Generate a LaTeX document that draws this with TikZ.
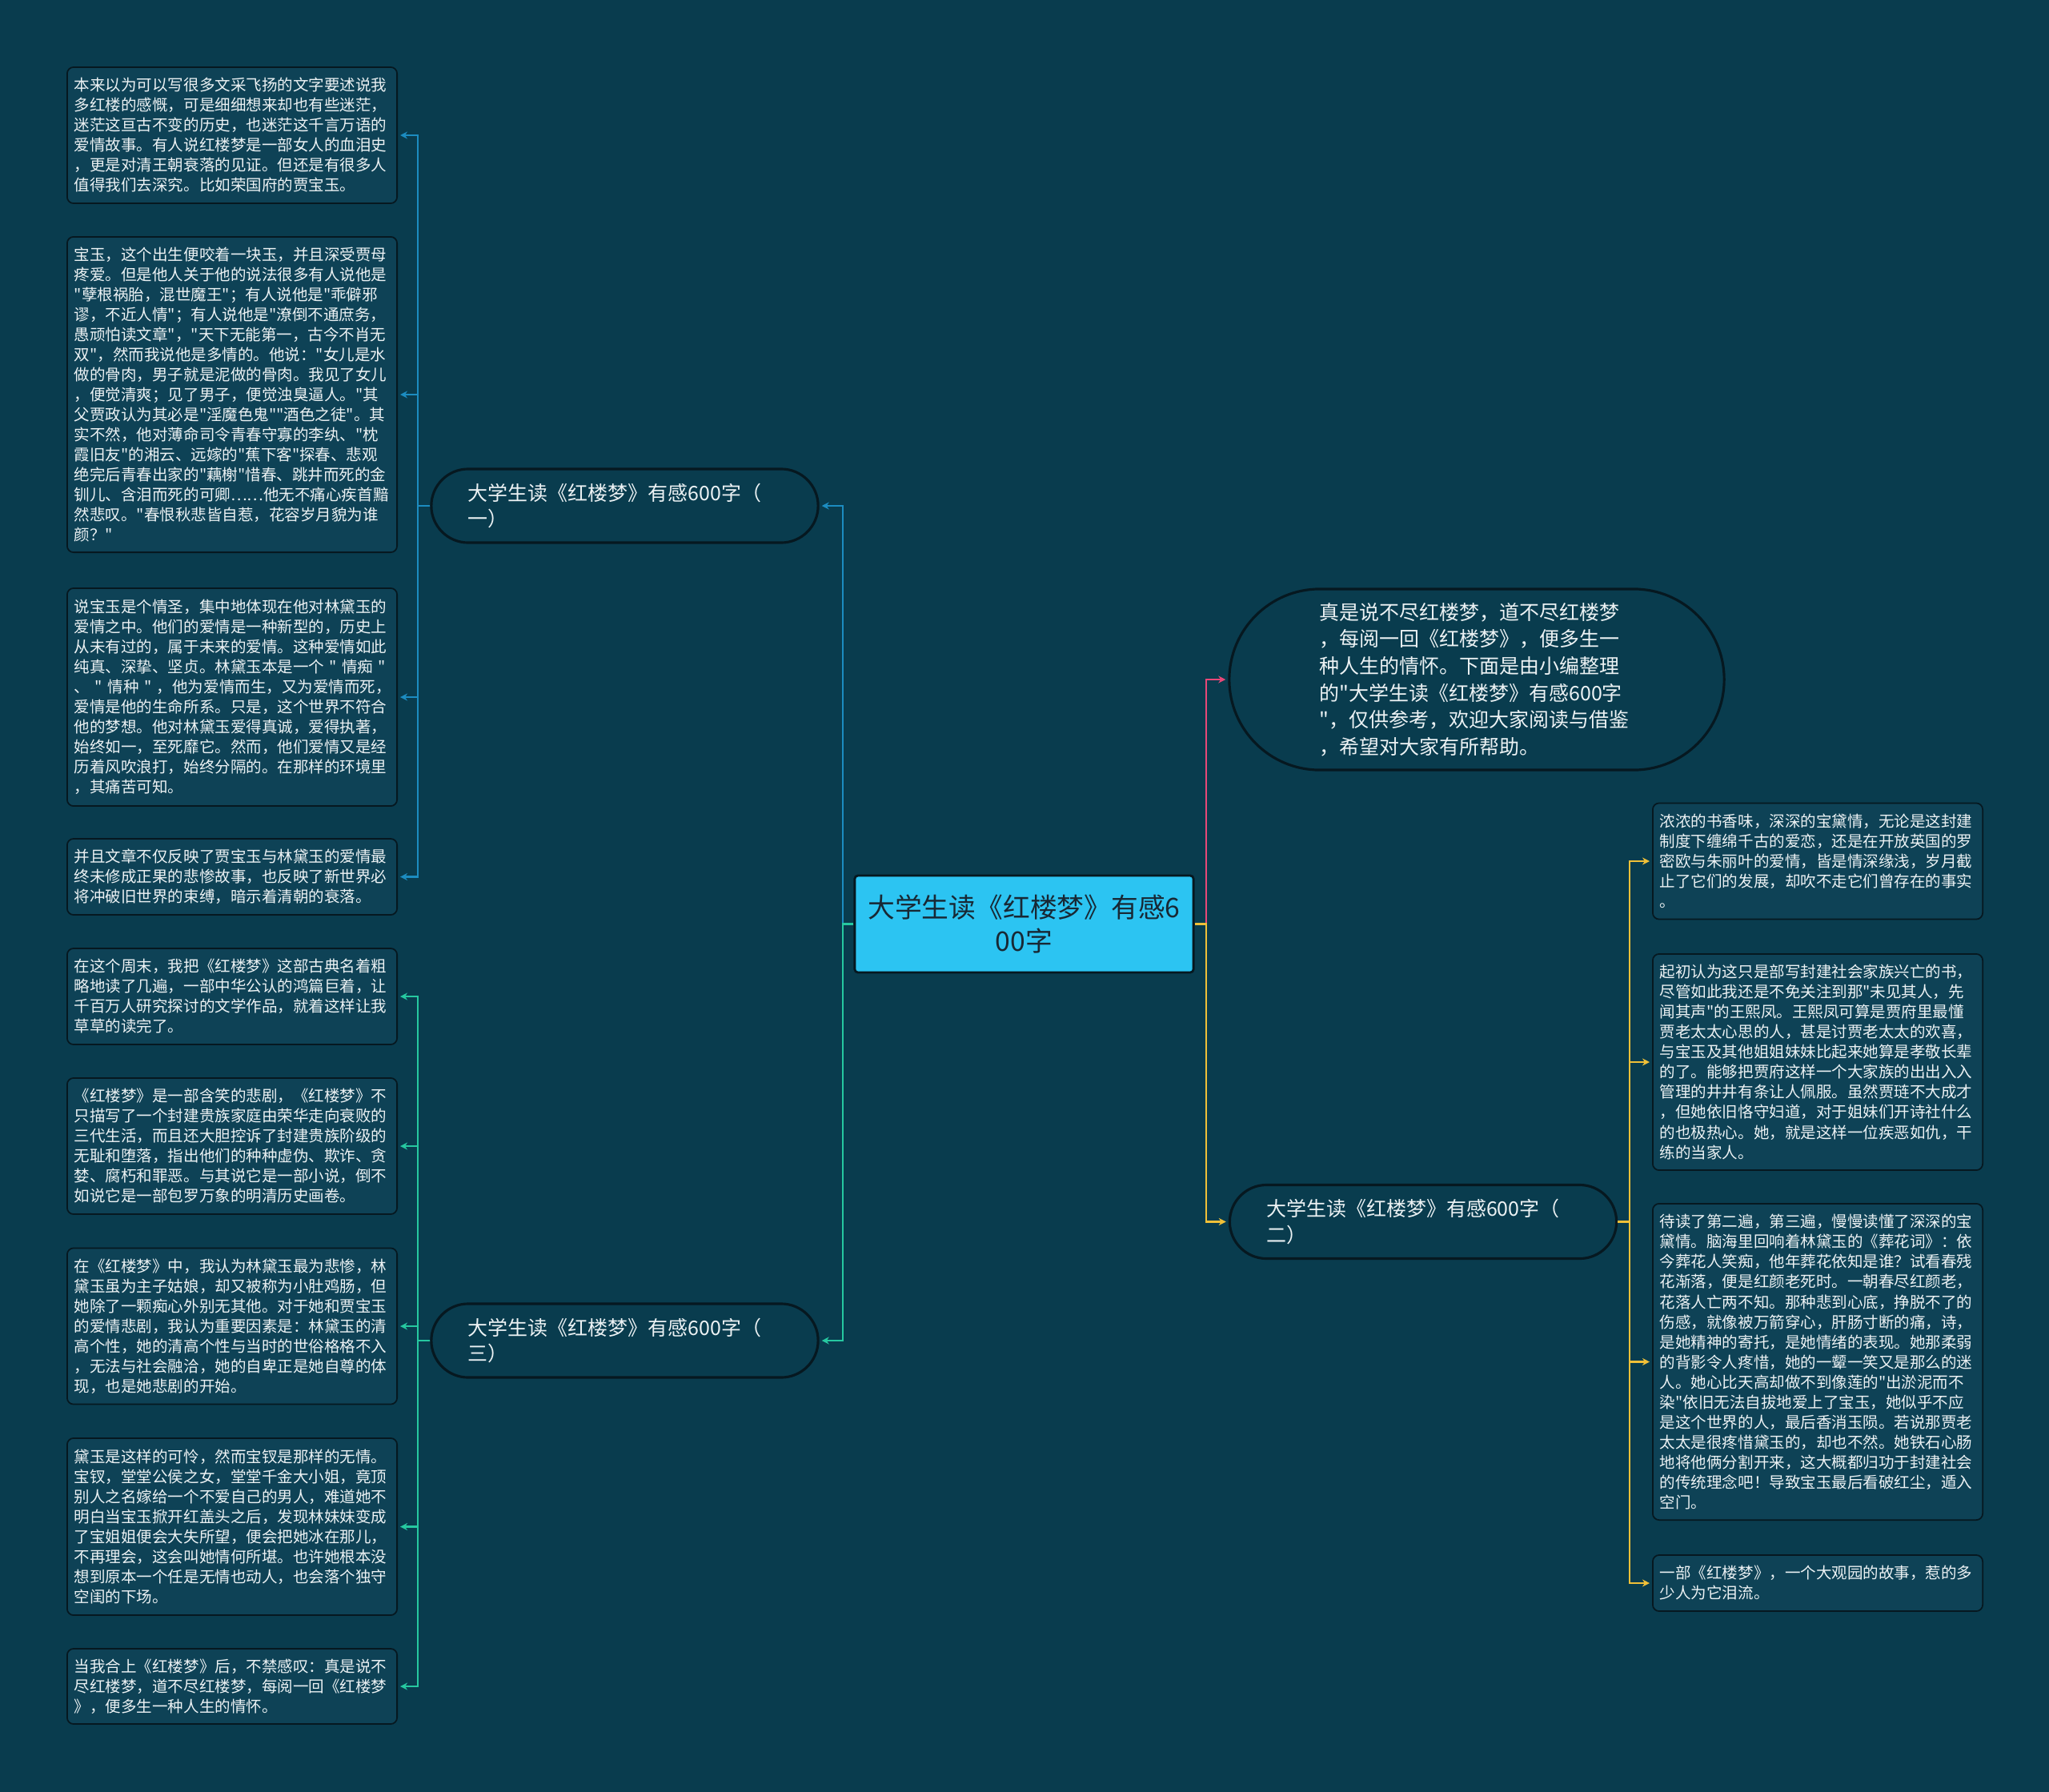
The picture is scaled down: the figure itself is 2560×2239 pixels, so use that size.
\documentclass[tikz,border=0pt]{standalone}
\usepackage{fontspec}
\setmainfont{Noto Sans CJK SC}[Ligatures=TeXOff]
\usetikzlibrary{arrows.meta}
\definecolor{bgc}{RGB}{9,60,78}
\definecolor{leaffill}{RGB}{14,66,86}
\definecolor{edgedark}{RGB}{6,24,32}
\definecolor{rootfill}{RGB}{44,196,242}
\definecolor{roottext}{RGB}{24,40,52}
\definecolor{cblue}{RGB}{28,140,192}
\definecolor{cgreen}{RGB}{38,200,160}
\definecolor{cpink}{RGB}{232,72,120}
\definecolor{cyellow}{RGB}{240,192,56}
\definecolor{txt}{RGB}{236,242,244}
\begin{document}
\begin{tikzpicture}[x=0.01cm,y=-0.01cm,
 leaf/.style={draw=edgedark, line width=0.5pt, fill=leaffill, rounded corners=0.08cm,
   text=txt, font=\fontsize{5.55pt}{7.11pt}\selectfont, align=left,
   text width=3.94cm, inner xsep=0.09cm, inner ysep=0pt, minimum width=4.12cm},
 branch/.style={draw=edgedark, line width=0.9pt, fill=bgc, rounded corners=0.46cm,
   text=txt, font=\fontsize{7.1pt}{9.3pt}\selectfont, align=left,
   text width=3.91cm, inner xsep=0.46cm, inner ysep=0pt,
   minimum width=4.83cm, minimum height=0.92cm},
 rootbox/.style={draw=edgedark, line width=0.8pt, fill=rootfill, rounded corners=0.04cm,
   text=roottext, font=\fontsize{9.6pt}{11.9pt}\selectfont, align=center,
   minimum width=4.23cm, minimum height=1.21cm, inner sep=0pt},
 introbox/.style={draw=edgedark, line width=0.9pt, fill=bgc, rounded corners=1.13cm,
   text=txt, font=\fontsize{7.1pt}{9.55pt}\selectfont, align=left,
   text width=3.92cm, inner xsep=1.13cm, inner ysep=0pt,
   minimum width=6.18cm, minimum height=2.26cm},
 conn/.style={line width=0.6pt, shorten >=0.03cm, -{Stealth[length=0.09cm,width=0.09cm]}}
]
\useasboundingbox[fill=bgc] (0,0) rectangle (2560,2239);

% root and main branches
\node[rootbox] (C) at (1279.5,1154.5) {大学生读《红楼梦》有感6\\00字};
\node[branch] (B1) at (780.5,632) {大学生读《红楼梦》有感600字（\\一）};
\node[branch] (B3) at (780.5,1675) {大学生读《红楼梦》有感600字（\\三）};
\node[branch] (B2) at (1778,1526.5) {大学生读《红楼梦》有感600字（\\二）};
\node[introbox] (I) at (1845,849) {真是说不尽红楼梦，道不尽红楼梦\\，每阅一回《红楼梦》，便多生一\\种人生的情怀。下面是由小编整理\\的"大学生读《红楼梦》有感600字\\"，仅供参考，欢迎大家阅读与借鉴\\，希望对大家有所帮助。};

% left leaves (branch 1)
\node[leaf, minimum height=1.70cm] (L1) at (290,169) {本来以为可以写很多文采飞扬的文字要述说我\\多红楼的感慨，可是细细想来却也有些迷茫，\\迷茫这亘古不变的历史，也迷茫这千言万语的\\爱情故事。有人说红楼梦是一部女人的血泪史\\，更是对清王朝衰落的见证。但还是有很多人\\值得我们去深究。比如荣国府的贾宝玉。};
\node[leaf, minimum height=3.94cm] (L2) at (290,493) {宝玉，这个出生便咬着一块玉，并且深受贾母\\疼爱。但是他人关于他的说法很多有人说他是\\"孽根祸胎，混世魔王"；有人说他是"乖僻邪\\谬，不近人情"；有人说他是"潦倒不通庶务，\\愚顽怕读文章"，"天下无能第一，古今不肖无\\双"，然而我说他是多情的。他说："女儿是水\\做的骨肉，男子就是泥做的骨肉。我见了女儿\\，便觉清爽；见了男子，便觉浊臭逼人。"其\\父贾政认为其必是"淫魔色鬼""酒色之徒"。其\\实不然，他对薄命司令青春守寡的李纨、"枕\\霞旧友"的湘云、远嫁的"蕉下客"探春、悲观\\绝完后青春出家的"藕榭"惜春、跳井而死的金\\钏儿、含泪而死的可卿……他无不痛心疾首黯\\然悲叹。"春恨秋悲皆自惹，花容岁月貌为谁\\颜？"};
\node[leaf, minimum height=2.72cm] (L3) at (290,871) {说宝玉是个情圣，集中地体现在他对林黛玉的\\爱情之中。他们的爱情是一种新型的，历史上\\从未有过的，属于未来的爱情。这种爱情如此\\纯真、深挚、坚贞。林黛玉本是一个~"~情痴~"\\、~"~情种~"~，他为爱情而生，又为爱情而死，\\爱情是他的生命所系。只是，这个世界不符合\\他的梦想。他对林黛玉爱得真诚，爱得执著，\\始终如一，至死靡它。然而，他们爱情又是经\\历着风吹浪打，始终分隔的。在那样的环境里\\，其痛苦可知。};
\node[leaf, minimum height=0.95cm] (L4) at (290,1095.5) {并且文章不仅反映了贾宝玉与林黛玉的爱情最\\终未修成正果的悲惨故事，也反映了新世界必\\将冲破旧世界的束缚，暗示着清朝的衰落。};

% left leaves (branch 3)
\node[leaf, minimum height=1.20cm] (L5) at (290,1245) {在这个周末，我把《红楼梦》这部古典名着粗\\略地读了几遍，一部中华公认的鸿篇巨着，让\\千百万人研究探讨的文学作品，就着这样让我\\草草的读完了。};
\node[leaf, minimum height=1.70cm] (L6) at (290,1432) {《红楼梦》是一部含笑的悲剧，《红楼梦》不\\只描写了一个封建贵族家庭由荣华走向衰败的\\三代生活，而且还大胆控诉了封建贵族阶级的\\无耻和堕落，指出他们的种种虚伪、欺诈、贪\\婪、腐朽和罪恶。与其说它是一部小说，倒不\\如说它是一部包罗万象的明清历史画卷。};
\node[leaf, minimum height=1.95cm] (L7) at (290,1657) {在《红楼梦》中，我认为林黛玉最为悲惨，林\\黛玉虽为主子姑娘，却又被称为小肚鸡肠，但\\她除了一颗痴心外别无其他。对于她和贾宝玉\\的爱情悲剧，我认为重要因素是：林黛玉的清\\高个性，她的清高个性与当时的世俗格格不入\\，无法与社会融洽，她的自卑正是她自尊的体\\现，也是她悲剧的开始。};
\node[leaf, minimum height=2.21cm] (L8) at (290,1907.5) {黛玉是这样的可怜，然而宝钗是那样的无情。\\宝钗，堂堂公侯之女，堂堂千金大小姐，竟顶\\别人之名嫁给一个不爱自己的男人，难道她不\\明白当宝玉掀开红盖头之后，发现林妹妹变成\\了宝姐姐便会大失所望，便会把她冰在那儿，\\不再理会，这会叫她情何所堪。也许她根本没\\想到原本一个任是无情也动人，也会落个独守\\空闺的下场。};
\node[leaf, minimum height=0.94cm] (L9) at (290,2107) {当我合上《红楼梦》后，不禁感叹：真是说不\\尽红楼梦，道不尽红楼梦，每阅一回《红楼梦\\》，便多生一种人生的情怀。};

% right leaves (branch 2)
\node[leaf, minimum height=1.45cm] (R1) at (2271,1076) {浓浓的书香味，深深的宝黛情，无论是这封建\\制度下缠绵千古的爱恋，还是在开放英国的罗\\密欧与朱丽叶的爱情，皆是情深缘浅，岁月截\\止了它们的发展，却吹不走它们曾存在的事实\\。};
\node[leaf, minimum height=2.70cm] (R2) at (2271,1327) {起初认为这只是部写封建社会家族兴亡的书，\\尽管如此我还是不免关注到那"未见其人，先\\闻其声"的王熙凤。王熙凤可算是贾府里最懂\\贾老太太心思的人，甚是讨贾老太太的欢喜，\\与宝玉及其他姐姐妹妹比起来她算是孝敬长辈\\的了。能够把贾府这样一个大家族的出出入入\\管理的井井有条让人佩服。虽然贾琏不大成才\\，但她依旧恪守妇道，对于姐妹们开诗社什么\\的也极热心。她，就是这样一位疾恶如仇，干\\练的当家人。};
\node[leaf, minimum height=3.95cm] (R3) at (2271,1701.5) {待读了第二遍，第三遍，慢慢读懂了深深的宝\\黛情。脑海里回响着林黛玉的《葬花词》：依\\今葬花人笑痴，他年葬花依知是谁？试看春残\\花渐落，便是红颜老死时。一朝春尽红颜老，\\花落人亡两不知。那种悲到心底，挣脱不了的\\伤感，就像被万箭穿心，肝肠寸断的痛，诗，\\是她精神的寄托，是她情绪的表现。她那柔弱\\的背影令人疼惜，她的一颦一笑又是那么的迷\\人。她心比天高却做不到像莲的"出淤泥而不\\染"依旧无法自拔地爱上了宝玉，她似乎不应\\是这个世界的人，最后香消玉陨。若说那贾老\\太太是很疼惜黛玉的，却也不然。她铁石心肠\\地将他俩分割开来，这大概都归功于封建社会\\的传统理念吧！导致宝玉最后看破红尘，遁入\\空门。};
\node[leaf, minimum height=0.70cm] (R4) at (2271,1978) {一部《红楼梦》，一个大观园的故事，惹的多\\少人为它泪流。};

% junction points
\coordinate (jL) at (1053,1154.5);
\coordinate (jR) at (1507,1154.5);
\coordinate (j1) at (522,632);
\coordinate (j3) at (522,1675);
\coordinate (j2) at (2036,1526.5);

% main connectors
\draw[conn, cblue] (C.west) -- (jL) |- (B1.east);
\draw[conn, cgreen] (C.west) -- (jL) |- (B3.east);
\draw[conn, cpink] (C.east) -- (jR) |- (I.west);
\draw[conn, cyellow] (C.east) -- (jR) |- (B2.west);

% branch 1 connectors
\foreach \t in {L1,L2,L3,L4} \draw[conn, cblue] (B1.west) -- (j1) |- (\t.east);
% branch 3 connectors
\foreach \t in {L5,L6,L7,L8,L9} \draw[conn, cgreen] (B3.west) -- (j3) |- (\t.east);
% branch 2 connectors
\foreach \t in {R1,R2,R3,R4} \draw[conn, cyellow] (B2.east) -- (j2) |- (\t.west);
\end{tikzpicture}
\end{document}
